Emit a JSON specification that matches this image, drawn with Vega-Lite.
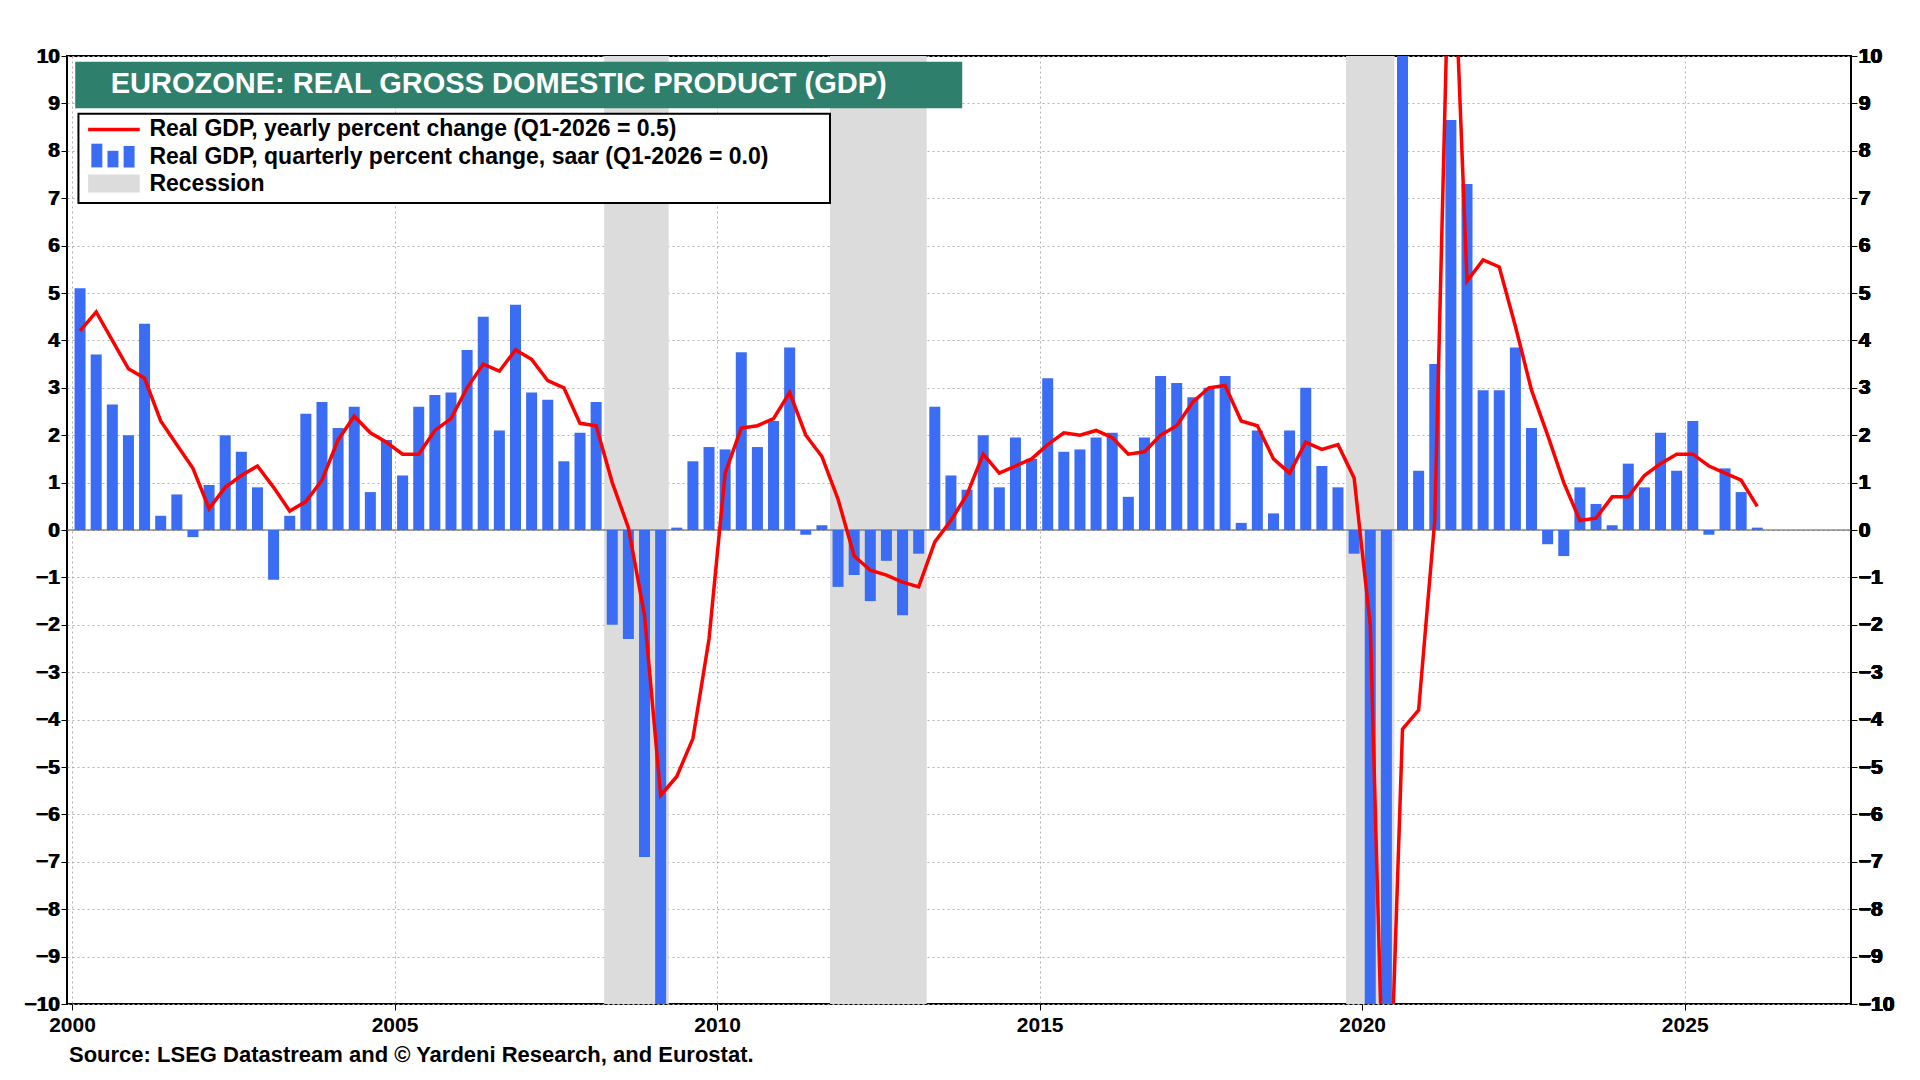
{
  "$schema": "https://vega.github.io/schema/vega-lite/v6.json",
  "width": 1784,
  "height": 948,
  "padding": {"left": 7, "top": 45, "right": 10, "bottom": 10},
  "background": "white",
  "title": {"text": "Source: LSEG Datastream and © Yardeni Research, and Eurostat.", "orient": "bottom", "anchor": "start", "font": "Liberation Sans", "fontSize": 22, "fontWeight": "bold", "color": "black", "offset": 10, "dx": 62},
  "config": {
    "view": {"stroke": "black", "strokeWidth": 2},
    "axis": {"labelFont": "Liberation Sans", "labelFontSize": 21, "labelFontWeight": "bold", "labelColor": "black", "tickColor": "black", "domain": false, "gridColor": "#b0b0b0", "gridDash": [2, 3], "gridWidth": 1, "title": null}
  },
  "datasets": {
    "gdp": [
      {"t":2000.125,"v":5.1,"g":4.2},{"t":2000.375,"v":3.7,"g":4.6},{"t":2000.625,"v":2.65,"g":4.0},{"t":2000.875,"v":2.0,"g":3.4},
      {"t":2001.125,"v":4.35,"g":3.2},{"t":2001.375,"v":0.3,"g":2.3},{"t":2001.625,"v":0.75,"g":1.8},{"t":2001.875,"v":-0.15,"g":1.3},
      {"t":2002.125,"v":0.95,"g":0.45},{"t":2002.375,"v":2.0,"g":0.9},{"t":2002.625,"v":1.65,"g":1.15},{"t":2002.875,"v":0.9,"g":1.35},
      {"t":2003.125,"v":-1.05,"g":0.9},{"t":2003.375,"v":0.3,"g":0.4},{"t":2003.625,"v":2.45,"g":0.6},{"t":2003.875,"v":2.7,"g":1.05},
      {"t":2004.125,"v":2.15,"g":1.9},{"t":2004.375,"v":2.6,"g":2.4},{"t":2004.625,"v":0.8,"g":2.05},{"t":2004.875,"v":1.9,"g":1.85},
      {"t":2005.125,"v":1.15,"g":1.6},{"t":2005.375,"v":2.6,"g":1.6},{"t":2005.625,"v":2.85,"g":2.1},{"t":2005.875,"v":2.9,"g":2.35},
      {"t":2006.125,"v":3.8,"g":3.0},{"t":2006.375,"v":4.5,"g":3.5},{"t":2006.625,"v":2.1,"g":3.35},{"t":2006.875,"v":4.75,"g":3.8},
      {"t":2007.125,"v":2.9,"g":3.6},{"t":2007.375,"v":2.75,"g":3.15},{"t":2007.625,"v":1.45,"g":3.0},{"t":2007.875,"v":2.05,"g":2.25},
      {"t":2008.125,"v":2.7,"g":2.2},{"t":2008.375,"v":-2.0,"g":1.0},{"t":2008.625,"v":-2.3,"g":0.05},{"t":2008.875,"v":-6.9,"g":-1.8},
      {"t":2009.125,"v":-11.5,"g":-5.6},{"t":2009.375,"v":0.05,"g":-5.2},{"t":2009.625,"v":1.45,"g":-4.4},{"t":2009.875,"v":1.75,"g":-2.3},
      {"t":2010.125,"v":1.7,"g":1.2},{"t":2010.375,"v":3.75,"g":2.15},{"t":2010.625,"v":1.75,"g":2.2},{"t":2010.875,"v":2.3,"g":2.35},
      {"t":2011.125,"v":3.85,"g":2.9},{"t":2011.375,"v":-0.1,"g":2.0},{"t":2011.625,"v":0.1,"g":1.55},{"t":2011.875,"v":-1.2,"g":0.65},
      {"t":2012.125,"v":-0.95,"g":-0.55},{"t":2012.375,"v":-1.5,"g":-0.85},{"t":2012.625,"v":-0.65,"g":-0.95},{"t":2012.875,"v":-1.8,"g":-1.1},
      {"t":2013.125,"v":-0.5,"g":-1.2},{"t":2013.375,"v":2.6,"g":-0.25},{"t":2013.625,"v":1.15,"g":0.2},{"t":2013.875,"v":0.85,"g":0.75},
      {"t":2014.125,"v":2.0,"g":1.6},{"t":2014.375,"v":0.9,"g":1.2},{"t":2014.625,"v":1.95,"g":1.35},{"t":2014.875,"v":1.5,"g":1.5},
      {"t":2015.125,"v":3.2,"g":1.8},{"t":2015.375,"v":1.65,"g":2.05},{"t":2015.625,"v":1.7,"g":2.0},{"t":2015.875,"v":1.95,"g":2.1},
      {"t":2016.125,"v":2.05,"g":1.95},{"t":2016.375,"v":0.7,"g":1.6},{"t":2016.625,"v":1.95,"g":1.65},{"t":2016.875,"v":3.25,"g":2.0},
      {"t":2017.125,"v":3.1,"g":2.2},{"t":2017.375,"v":2.8,"g":2.7},{"t":2017.625,"v":3.0,"g":3.0},{"t":2017.875,"v":3.25,"g":3.05},
      {"t":2018.125,"v":0.15,"g":2.3},{"t":2018.375,"v":2.1,"g":2.2},{"t":2018.625,"v":0.35,"g":1.5},{"t":2018.875,"v":2.1,"g":1.2},
      {"t":2019.125,"v":3.0,"g":1.85},{"t":2019.375,"v":1.35,"g":1.7},{"t":2019.625,"v":0.9,"g":1.8},{"t":2019.875,"v":-0.5,"g":1.1},
      {"t":2020.125,"v":-13.0,"g":-2.0},{"t":2020.375,"v":-40.0,"g":-14.5},{"t":2020.625,"v":60.0,"g":-4.2},{"t":2020.875,"v":1.25,"g":-3.8},
      {"t":2021.125,"v":3.5,"g":0.2},{"t":2021.375,"v":8.65,"g":14.0},{"t":2021.625,"v":7.3,"g":5.25},{"t":2021.875,"v":2.95,"g":5.7},
      {"t":2022.125,"v":2.95,"g":5.55},{"t":2022.375,"v":3.85,"g":4.3},{"t":2022.625,"v":2.15,"g":2.95},{"t":2022.875,"v":-0.3,"g":2.0},
      {"t":2023.125,"v":-0.55,"g":1.0},{"t":2023.375,"v":0.9,"g":0.2},{"t":2023.625,"v":0.55,"g":0.25},{"t":2023.875,"v":0.1,"g":0.7},
      {"t":2024.125,"v":1.4,"g":0.7},{"t":2024.375,"v":0.9,"g":1.15},{"t":2024.625,"v":2.05,"g":1.4},{"t":2024.875,"v":1.25,"g":1.6},
      {"t":2025.125,"v":2.3,"g":1.6},{"t":2025.375,"v":-0.1,"g":1.35},{"t":2025.625,"v":1.3,"g":1.2},{"t":2025.875,"v":0.8,"g":1.05},
      {"t":2026.125,"v":0.05,"g":0.5}
    ],
    "rec": [{"a":2008.25,"b":2009.25},{"a":2011.75,"b":2013.25},{"a":2019.75,"b":2020.5}],
    "legtext": [
      {"x":2001.2,"y":8.45,"s":"Real GDP, yearly percent change (Q1-2026 = 0.5)"},
      {"x":2001.2,"y":7.87,"s":"Real GDP, quarterly percent change, saar (Q1-2026 = 0.0)"},
      {"x":2001.2,"y":7.3,"s":"Recession"}
    ],
    "legbars": [
      {"a":2000.3,"b":2000.47,"y":8.15},{"a":2000.55,"b":2000.72,"y":8.0},{"a":2000.8,"b":2000.97,"y":8.1}
    ]
  },
  "layer": [
    {
      "data": {"name": "rec"},
      "mark": {"type": "rect", "color": "#dcdcdc"},
      "encoding": {
        "x": {"field": "a", "type": "quantitative", "scale": {"domain": [2000, 2027.5], "nice": false, "zero": false}, "axis": {"values": [2000, 2005, 2010, 2015, 2020, 2025], "format": "d", "tickSize": 6, "labelPadding": 4, "grid": true}},
        "x2": {"field": "b"}
      }
    },
    {
      "data": {"values": [{"z": 0}]},
      "mark": {"type": "rule", "color": "#555555", "strokeWidth": 1},
      "encoding": {"y": {"field": "z", "type": "quantitative", "scale": {"domain": [-10, 10], "nice": false}, "axis": null}}
    },
    {
      "data": {"name": "gdp"},
      "mark": {"type": "bar", "color": "#3b6cf4", "size": 11, "clip": true},
      "encoding": {
        "x": {"field": "t", "type": "quantitative"},
        "y": {"field": "v", "type": "quantitative", "scale": {"domain": [-10, 10], "nice": false}, "axis": {"orient": "left", "values": [-10,-9,-8,-7,-6,-5,-4,-3,-2,-1,0,1,2,3,4,5,6,7,8,9,10], "grid": true, "tickSize": 6, "minExtent": 60, "maxExtent": 60}}
      }
    },
    {
      "data": {"name": "gdp"},
      "mark": {"type": "line", "color": "#ff0000", "strokeWidth": 3.5, "clip": true},
      "encoding": {
        "x": {"field": "t", "type": "quantitative"},
        "y": {"field": "g", "type": "quantitative", "axis": {"orient": "right", "values": [-10,-9,-8,-7,-6,-5,-4,-3,-2,-1,0,1,2,3,4,5,6,7,8,9,10], "grid": false, "tickSize": 6}}
      }
    },
    {
      "data": {"values": [{"a": 2000.05, "b": 2013.8, "y1": 8.9, "y2": 9.88}]},
      "mark": {"type": "rect", "color": "#2e7f6c"},
      "encoding": {"x": {"field": "a", "type": "quantitative"}, "x2": {"field": "b"}, "y": {"field": "y1", "type": "quantitative"}, "y2": {"field": "y2"}}
    },
    {
      "data": {"values": [{"x": 2000.6, "y": 9.4, "s": "EUROZONE: REAL GROSS DOMESTIC PRODUCT (GDP)"}]},
      "mark": {"type": "text", "align": "left", "baseline": "middle", "color": "white", "font": "Liberation Sans", "fontSize": 29, "fontWeight": "bold"},
      "encoding": {"x": {"field": "x", "type": "quantitative"}, "y": {"field": "y", "type": "quantitative"}, "text": {"field": "s"}}
    },
    {
      "data": {"values": [{"a": 2000.1, "b": 2011.75, "y1": 6.9, "y2": 8.78}]},
      "mark": {"type": "rect", "fill": "white", "stroke": "black", "strokeWidth": 2},
      "encoding": {"x": {"field": "a", "type": "quantitative"}, "x2": {"field": "b"}, "y": {"field": "y1", "type": "quantitative"}, "y2": {"field": "y2"}}
    },
    {
      "data": {"values": [{"a": 2000.25, "b": 2001.05, "y": 8.45}]},
      "mark": {"type": "rule", "color": "#ff0000", "strokeWidth": 3.5},
      "encoding": {"x": {"field": "a", "type": "quantitative"}, "x2": {"field": "b"}, "y": {"field": "y", "type": "quantitative"}}
    },
    {
      "data": {"name": "legbars"},
      "mark": {"type": "rect", "color": "#3b6cf4"},
      "encoding": {"x": {"field": "a", "type": "quantitative"}, "x2": {"field": "b"}, "y": {"field": "y", "type": "quantitative"}, "y2": {"datum": 7.65}}
    },
    {
      "data": {"values": [{"a": 2000.25, "b": 2001.05, "y1": 7.12, "y2": 7.5}]},
      "mark": {"type": "rect", "color": "#dcdcdc"},
      "encoding": {"x": {"field": "a", "type": "quantitative"}, "x2": {"field": "b"}, "y": {"field": "y1", "type": "quantitative"}, "y2": {"field": "y2"}}
    },
    {
      "data": {"name": "legtext"},
      "mark": {"type": "text", "align": "left", "baseline": "middle", "color": "black", "font": "Liberation Sans", "fontSize": 23, "fontWeight": "bold"},
      "encoding": {"x": {"field": "x", "type": "quantitative"}, "y": {"field": "y", "type": "quantitative"}, "text": {"field": "s"}}
    }
  ],
  "resolve": {"axis": {"y": "independent"}}
}
